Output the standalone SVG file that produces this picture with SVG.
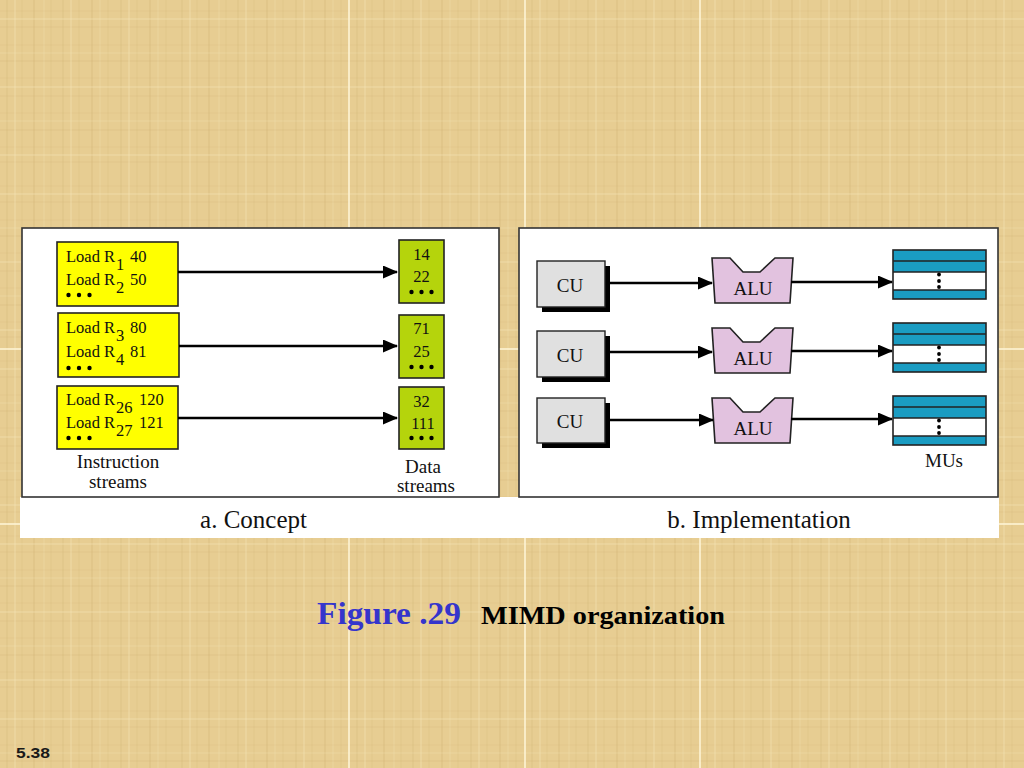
<svg xmlns="http://www.w3.org/2000/svg" width="1024" height="768" viewBox="0 0 1024 768">
<style>
.t{font-family:"Liberation Serif","Times New Roman",serif;fill:#111;}
.yb{fill:#FFFF00;stroke:#222;stroke-width:1.6;}
.gb{fill:#B5D40C;stroke:#222;stroke-width:1.6;}
.cu{fill:#E0E0E0;stroke:#222;stroke-width:1.4;}
.sh{fill:#000;}
.alu{fill:#E2C2DF;stroke:#222;stroke-width:1.6;stroke-linejoin:miter;}
.mb{fill:#1A9CC2;}
.mo{fill:none;stroke:#222;stroke-width:1.6;}
.ml{stroke:#222;stroke-width:1.6;}
.ar{stroke:#000;stroke-width:2.4;fill:none;marker-end:url(#ah);}
.seam{stroke:#FFF6D8;stroke-width:1.5;}
.panel{fill:#FFFFFF;stroke:#333;stroke-width:1.6;}
</style>
<defs>
<marker id="ah" markerUnits="userSpaceOnUse" markerWidth="15" markerHeight="13" refX="14" refY="6.5" orient="auto">
<path d="M0,0 L15,6.5 L0,13 Z" fill="#000"/>
</marker>
<pattern id="parch" x="0" y="0" width="175" height="175" patternUnits="userSpaceOnUse">
<rect width="175" height="175" fill="#E7CD92"/>
<g stroke="#C8A765" stroke-opacity="0.18">
<line x1="7" y1="0" x2="7" y2="175" stroke-width="1.5"/>
<line x1="22" y1="0" x2="22" y2="175"/>
<line x1="34" y1="0" x2="34" y2="175" stroke-width="2"/>
<line x1="51" y1="0" x2="51" y2="175"/>
<line x1="63" y1="0" x2="63" y2="175" stroke-width="1.5"/>
<line x1="79" y1="0" x2="79" y2="175"/>
<line x1="92" y1="0" x2="92" y2="175" stroke-width="2"/>
<line x1="108" y1="0" x2="108" y2="175"/>
<line x1="121" y1="0" x2="121" y2="175" stroke-width="1.5"/>
<line x1="137" y1="0" x2="137" y2="175"/>
<line x1="150" y1="0" x2="150" y2="175" stroke-width="2"/>
<line x1="166" y1="0" x2="166" y2="175"/>
</g>
<g stroke="#CFAF6E" stroke-opacity="0.16">
<line x1="0" y1="11" x2="175" y2="11"/>
<line x1="0" y1="27" x2="175" y2="27" stroke-width="1.5"/>
<line x1="0" y1="45" x2="175" y2="45"/>
<line x1="0" y1="61" x2="175" y2="61" stroke-width="2"/>
<line x1="0" y1="78" x2="175" y2="78"/>
<line x1="0" y1="96" x2="175" y2="96" stroke-width="1.5"/>
<line x1="0" y1="113" x2="175" y2="113"/>
<line x1="0" y1="130" x2="175" y2="130" stroke-width="2"/>
<line x1="0" y1="147" x2="175" y2="147"/>
<line x1="0" y1="162" x2="175" y2="162" stroke-width="1.5"/>
</g>
<g stroke="#F6E6B8" stroke-opacity="0.3">
<line x1="15" y1="0" x2="15" y2="175" stroke-width="2"/>
<line x1="44" y1="0" x2="44" y2="175"/>
<line x1="71" y1="0" x2="71" y2="175" stroke-width="2"/>
<line x1="100" y1="0" x2="100" y2="175"/>
<line x1="129" y1="0" x2="129" y2="175" stroke-width="2"/>
<line x1="158" y1="0" x2="158" y2="175"/>
<line x1="0" y1="19" x2="175" y2="19" stroke-width="2"/>
<line x1="0" y1="53" x2="175" y2="53"/>
<line x1="0" y1="87" x2="175" y2="87" stroke-width="2"/>
<line x1="0" y1="121" x2="175" y2="121"/>
<line x1="0" y1="155" x2="175" y2="155" stroke-width="2"/>
</g>
</pattern>
</defs>

<g id="background">
<rect x="0" y="0" width="1024" height="768" fill="url(#parch)"/>
<line class="seam" x1="349" y1="0" x2="349" y2="768"/>
<line class="seam" x1="525" y1="0" x2="525" y2="768"/>
<line class="seam" x1="700" y1="0" x2="700" y2="768"/>
<line class="seam" x1="0" y1="349" x2="1024" y2="349"/>
<line class="seam" x1="0" y1="524" x2="1024" y2="524"/>
</g>

<g id="panels">
<rect x="20" y="497" width="979" height="41" fill="#FFFFFF"/>
<rect class="panel" x="22" y="228" width="477" height="269"/>
<rect class="panel" x="519" y="228" width="479" height="269"/>
<text class="t" x="253.5" y="528" font-size="25" text-anchor="middle">a. Concept</text>
<text class="t" x="759" y="528" font-size="25" text-anchor="middle">b. Implementation</text>
</g>

<g id="instr1">
<rect class="yb" x="57" y="242" width="121" height="64"/>
<text class="t" font-size="16.5" x="66" y="262">Load R<tspan x="116" y="270">1</tspan><tspan x="130" y="262">40</tspan></text>
<text class="t" font-size="16.5" x="66" y="285">Load R<tspan x="116" y="293">2</tspan><tspan x="130" y="285">50</tspan></text>
<circle cx="68.5" cy="295" r="2.2"/><circle cx="79" cy="295" r="2.2"/><circle cx="89.5" cy="295" r="2.2"/>
</g>
<g id="instr2">
<rect class="yb" x="58" y="313" width="121" height="64"/>
<text class="t" font-size="16.5" x="66" y="333">Load R<tspan x="116" y="341">3</tspan><tspan x="130" y="333">80</tspan></text>
<text class="t" font-size="16.5" x="66" y="357">Load R<tspan x="116" y="365">4</tspan><tspan x="130" y="357">81</tspan></text>
<circle cx="68.5" cy="368" r="2.2"/><circle cx="79" cy="368" r="2.2"/><circle cx="89.5" cy="368" r="2.2"/>
</g>
<g id="instr3">
<rect class="yb" x="57" y="386" width="121" height="63"/>
<text class="t" font-size="16.5" x="66" y="405">Load R<tspan x="116" y="413">26</tspan><tspan x="139" y="405">120</tspan></text>
<text class="t" font-size="16.5" x="66" y="428">Load R<tspan x="116" y="436">27</tspan><tspan x="139" y="428">121</tspan></text>
<circle cx="68.5" cy="438" r="2.2"/><circle cx="79" cy="438" r="2.2"/><circle cx="89.5" cy="438" r="2.2"/>
</g>
<g id="label-instr">
<text class="t" font-size="19" x="118" y="468" text-anchor="middle">Instruction</text>
<text class="t" font-size="19" x="118" y="488" text-anchor="middle">streams</text>
</g>

<g id="data1">
<rect class="gb" x="399" y="240" width="45" height="63"/>
<text class="t" font-size="16.5" x="421.5" y="260" text-anchor="middle">14</text>
<text class="t" font-size="16.5" x="421.5" y="282" text-anchor="middle">22</text>
<circle cx="411.5" cy="292" r="2.2"/><circle cx="421.5" cy="292" r="2.2"/><circle cx="431.5" cy="292" r="2.2"/>
</g>
<g id="data2">
<rect class="gb" x="399" y="315" width="45" height="63"/>
<text class="t" font-size="16.5" x="421.5" y="334" text-anchor="middle">71</text>
<text class="t" font-size="16.5" x="421.5" y="357" text-anchor="middle">25</text>
<circle cx="411.5" cy="367" r="2.2"/><circle cx="421.5" cy="367" r="2.2"/><circle cx="431.5" cy="367" r="2.2"/>
</g>
<g id="data3">
<rect class="gb" x="399" y="387" width="45" height="62"/>
<text class="t" font-size="16.5" x="421.5" y="407" text-anchor="middle">32</text>
<text class="t" font-size="16.5" x="423" y="429" text-anchor="middle">111</text>
<circle cx="411.5" cy="438" r="2.2"/><circle cx="421.5" cy="438" r="2.2"/><circle cx="431.5" cy="438" r="2.2"/>
</g>
<g id="label-data">
<text class="t" font-size="19" x="423" y="473" text-anchor="middle">Data</text>
<text class="t" font-size="19" x="426" y="492" text-anchor="middle">streams</text>
</g>

<g id="cu1">
<rect class="sh" x="542" y="266" width="68" height="46"/>
<rect class="cu" x="537" y="261" width="68" height="46"/>
<text class="t" font-size="19" x="570" y="292" text-anchor="middle">CU</text>
</g>
<g id="cu2">
<rect class="sh" x="542" y="336" width="68" height="46"/>
<rect class="cu" x="537" y="331" width="68" height="46"/>
<text class="t" font-size="19" x="570" y="362" text-anchor="middle">CU</text>
</g>
<g id="cu3">
<rect class="sh" x="542" y="403" width="68" height="45"/>
<rect class="cu" x="537" y="398" width="68" height="45"/>
<text class="t" font-size="19" x="570" y="428" text-anchor="middle">CU</text>
</g>

<g id="alu1">
<path class="alu" d="M712,258 L730,258 L743,272 L760,272 L775,258 L793,258 L790,303 L715,303 Z"/>
<text class="t" font-size="19" x="753" y="295" text-anchor="middle">ALU</text>
</g>
<g id="alu2">
<path class="alu" d="M712,328 L730,328 L743,342 L760,342 L775,328 L793,328 L790,373 L715,373 Z"/>
<text class="t" font-size="19" x="753" y="365" text-anchor="middle">ALU</text>
</g>
<g id="alu3">
<path class="alu" d="M712,398 L730,398 L743,412 L760,412 L775,398 L793,398 L790,443 L715,443 Z"/>
<text class="t" font-size="19" x="753" y="435" text-anchor="middle">ALU</text>
</g>

<g id="mu1">
<rect class="mb" x="893" y="250" width="93" height="11"/>
<rect class="mb" x="893" y="261" width="93" height="11"/>
<rect x="893" y="272" width="93" height="18" fill="#FFFFFF"/>
<rect class="mb" x="893" y="290" width="93" height="9"/>
<line class="ml" x1="893" y1="261" x2="986" y2="261"/>
<line class="ml" x1="893" y1="272" x2="986" y2="272"/>
<line class="ml" x1="893" y1="290" x2="986" y2="290"/>
<rect class="mo" x="893" y="250" width="93" height="49"/>
<circle cx="939" cy="274.5" r="1.9"/><circle cx="939" cy="281" r="1.9"/><circle cx="939" cy="287" r="1.9"/>
</g>
<g id="mu2">
<rect class="mb" x="893" y="323" width="93" height="11"/>
<rect class="mb" x="893" y="334" width="93" height="11"/>
<rect x="893" y="345" width="93" height="18" fill="#FFFFFF"/>
<rect class="mb" x="893" y="363" width="93" height="9"/>
<line class="ml" x1="893" y1="334" x2="986" y2="334"/>
<line class="ml" x1="893" y1="345" x2="986" y2="345"/>
<line class="ml" x1="893" y1="363" x2="986" y2="363"/>
<rect class="mo" x="893" y="323" width="93" height="49"/>
<circle cx="939" cy="347.5" r="1.9"/><circle cx="939" cy="354" r="1.9"/><circle cx="939" cy="360" r="1.9"/>
</g>
<g id="mu3">
<rect class="mb" x="893" y="396" width="93" height="11"/>
<rect class="mb" x="893" y="407" width="93" height="11"/>
<rect x="893" y="418" width="93" height="18" fill="#FFFFFF"/>
<rect class="mb" x="893" y="436" width="93" height="9"/>
<line class="ml" x1="893" y1="407" x2="986" y2="407"/>
<line class="ml" x1="893" y1="418" x2="986" y2="418"/>
<line class="ml" x1="893" y1="436" x2="986" y2="436"/>
<rect class="mo" x="893" y="396" width="93" height="49"/>
<circle cx="939" cy="420.5" r="1.9"/><circle cx="939" cy="427" r="1.9"/><circle cx="939" cy="433" r="1.9"/>
</g>
<g id="label-mus">
<text class="t" font-size="19" x="944" y="467" text-anchor="middle">MUs</text>
</g>

<g id="connectors">
<line class="ar" x1="178" y1="272" x2="397" y2="272"/>
<line class="ar" x1="179" y1="346" x2="397" y2="346"/>
<line class="ar" x1="178" y1="418" x2="397" y2="418"/>
<line class="ar" x1="610" y1="283" x2="712" y2="283"/>
<line class="ar" x1="610" y1="352" x2="712" y2="352"/>
<line class="ar" x1="610" y1="420" x2="713" y2="420"/>
<line class="ar" x1="791" y1="282" x2="892" y2="282"/>
<line class="ar" x1="791" y1="351" x2="892" y2="351"/>
<line class="ar" x1="791" y1="419" x2="892" y2="419"/>
</g>

<g id="caption">
<text x="317" y="624" font-family="'Liberation Serif','Times New Roman',serif" font-weight="bold" font-size="31" fill="#3535CC" textLength="144" lengthAdjust="spacingAndGlyphs">Figure .29</text>
<text x="481" y="624" font-family="'Liberation Serif','Times New Roman',serif" font-weight="bold" font-size="25" fill="#000" textLength="244" lengthAdjust="spacingAndGlyphs">MIMD organization</text>
<text x="16" y="758" font-family="'Liberation Sans',Arial,sans-serif" font-weight="bold" font-size="15" fill="#1A1A1A" textLength="34" lengthAdjust="spacingAndGlyphs">5.38</text>
</g>
</svg>
